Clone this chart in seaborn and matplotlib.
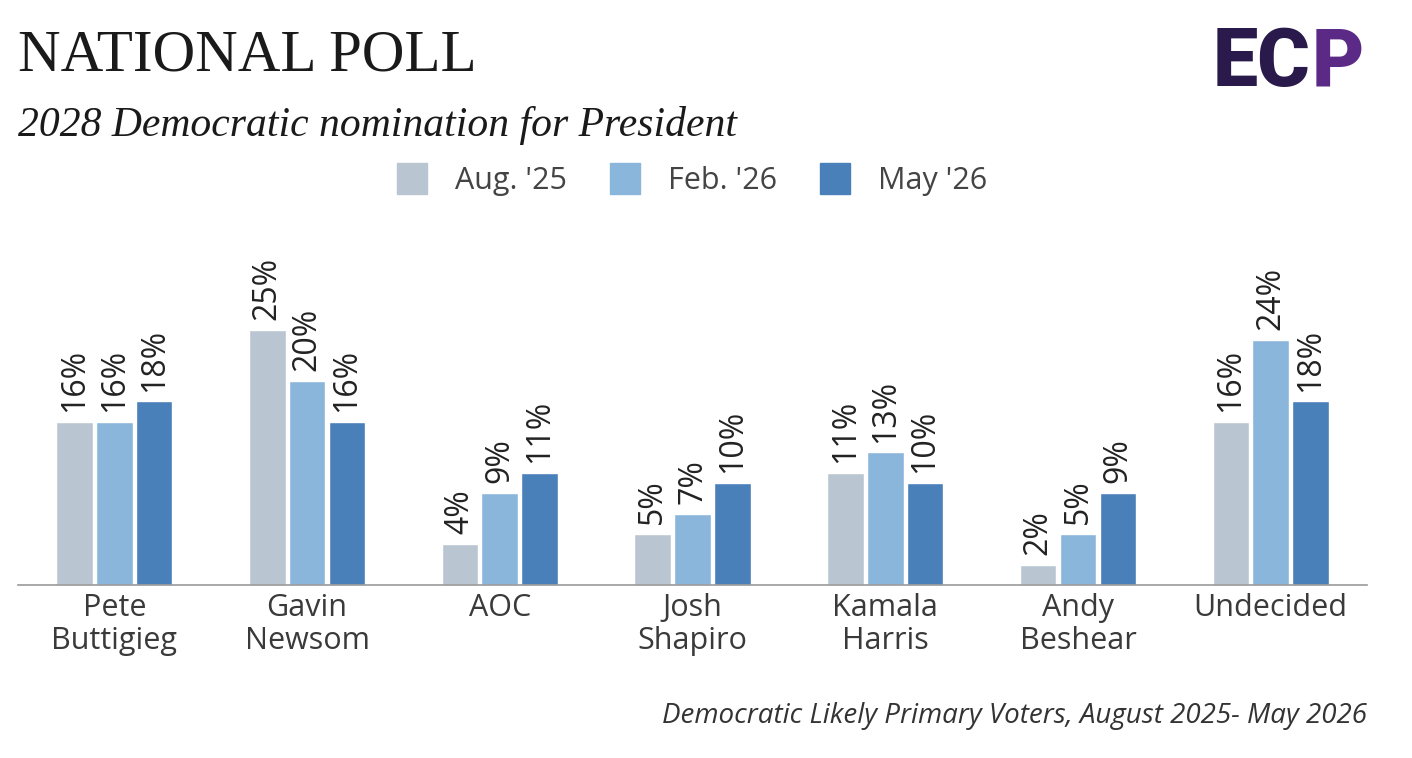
import pandas as pd
import matplotlib.pyplot as plt
import seaborn as sns

candidates = ["Pete\nButtigieg", "Gavin\nNewsom", "AOC", "Josh\nShapiro",
              "Kamala\nHarris", "Andy\nBeshear", "Undecided"]
waves = ["Aug. '25", "Feb. '26", "May '26"]
aug_25 = [16, 25, 4, 5, 11, 2, 16]
feb_26 = [16, 20, 9, 7, 13, 5, 24]
may_26 = [18, 16, 11, 10, 10, 9, 18]

colors = {"Aug. '25": "#b9c6d2", "Feb. '26": "#8ab6dc", "May '26": "#4a80b9"}

df = pd.DataFrame({
    "candidate": candidates * 3,
    "wave": [w for w in waves for _ in candidates],
    "pct": aug_25 + feb_26 + may_26,
})

sns.set_style("white")
plt.rcParams['font.family'] = ['Open Sans', 'DejaVu Sans']

fig = plt.figure(figsize=(14.12, 7.58), dpi=100)
ax = fig.add_axes([0.0127, 0.2282, 0.9555, 0.4552])

sns.barplot(data=df, x="candidate", y="pct", hue="wave", hue_order=waves,
            palette=colors, width=0.62, gap=0.08, ax=ax, legend=False,
            saturation=1)

for cont in ax.containers:
    for bar in cont:
        h = bar.get_height()
        ax.text(bar.get_x() + bar.get_width() / 2, h + 0.95, f"{h:.0f}%",
                rotation=90, ha="center", va="bottom", fontsize=23, color="#222222")

ax.set_xlim(-0.5, 6.5)
ax.set_ylim(0, 33.8)
ax.set_xlabel("")
ax.set_ylabel("")
ax.set_yticks([])
ax.tick_params(axis="x", length=0, labelsize=22, labelcolor="#3a3a3a", pad=6)
for t in ax.get_xticklabels():
    t.set_linespacing(1.12)
for s in ["top", "right", "left"]:
    ax.spines[s].set_visible(False)
ax.spines["bottom"].set_color("#9a9a9a")
ax.spines["bottom"].set_linewidth(1.2)

# legend
handles = [plt.Rectangle((0, 0), 1, 1, color=colors[w]) for w in waves]
fig.legend(handles, waves, loc="center", bbox_to_anchor=(0.49, 0.763), ncol=3,
           frameon=False, fontsize=22, handlelength=1.0, handleheight=1.2,
           columnspacing=1.4, handletextpad=0.9, labelcolor="#444444")

# titles
fig.text(0.013, 0.925, "NATIONAL POLL", fontsize=42.5, family="Liberation Serif",
         color="#1a1a1a", va="center")
fig.text(0.013, 0.834, "2028 Democratic nomination for President", fontsize=30,
         family="Liberation Serif", style="italic", color="#1a1a1a", va="center")
fig.text(0.968, 0.055, "Democratic Likely Primary Voters, August 2025- May 2026",
         fontsize=20, style="italic", color="#333333", ha="right", va="center")

# logo
fig.text(0.859, 0.915, "EC", fontsize=58, family="Roboto", weight="black",
         color="#2a1a4c", va="center")
fig.text(0.929, 0.915, "P", fontsize=58, family="Roboto", weight="black",
         color="#5a2a86", va="center")

fig.savefig("out.png", dpi=100)
